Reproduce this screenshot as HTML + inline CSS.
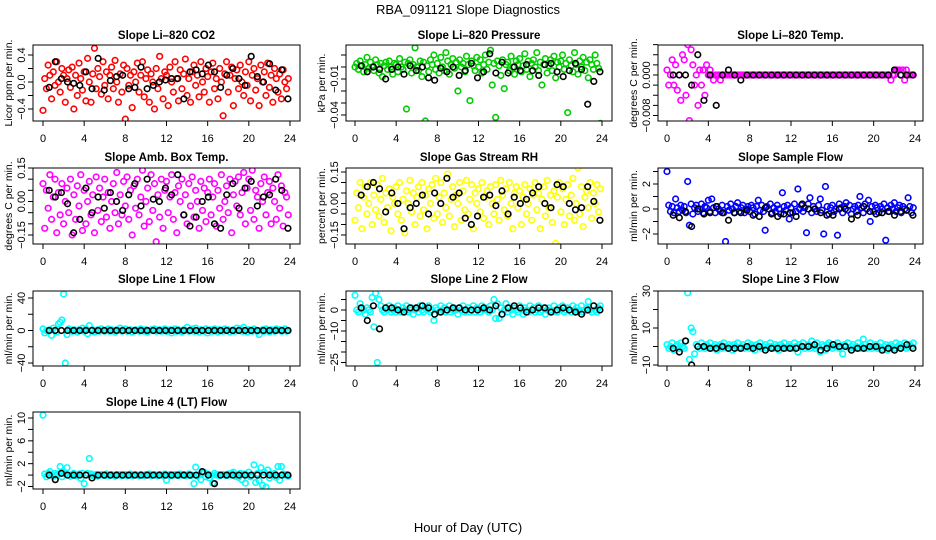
<!DOCTYPE html>
<html><head><meta charset="utf-8"><title>RBA_091121 Slope Diagnostics</title>
<style>
html,body{margin:0;padding:0;background:#fff;}
svg{display:block;font-family:"Liberation Sans",Arial,sans-serif;}
</style></head>
<body>
<svg id="chart" width="936" height="540" viewBox="0 0 936 540" xmlns="http://www.w3.org/2000/svg">
<rect width="936" height="540" fill="#fff"/>
<text x="468" y="14" text-anchor="middle" font-size="13">RBA_091121  Slope Diagnostics</text>
<text x="468" y="532" text-anchor="middle" font-size="13">Hour of Day (UTC)</text>
</svg>
<script>
// ---------- data ----------
const xTicks = [0,4,8,12,16,20,24];

const co2Vals = [-0.42,0.05,-0.1,0.25,0.1,-0.25,0.15,-0.05,0.3,0.0,-0.15,0.2,0.1,-0.3,0.05,0.18,-0.08,0.22,-0.4,0.1,-0.2,0.28,0.05,-0.12,
 0.15,-0.28,0.35,0.0,-0.3,0.12,0.5,-0.1,0.2,0.08,-0.18,0.3,-0.05,0.15,-0.25,0.1,0.22,-0.1,0.32,0.0,-0.3,0.12,-0.15,0.25,
 -0.55,0.2,-0.05,0.1,-0.38,0.15,0.0,0.28,-0.15,0.1,0.3,-0.22,0.05,0.18,-0.3,0.12,0.0,-0.4,0.2,-0.1,0.38,0.05,-0.25,0.15,
 0.1,-0.35,0.22,0.0,-0.15,0.3,0.05,-0.28,0.18,-0.1,0.12,0.34,-0.2,0.05,-0.3,0.15,0.25,-0.05,0.1,-0.22,0.3,0.0,-0.15,0.2,
 0.08,-0.3,0.15,0.28,-0.1,0.05,-0.25,0.2,0.0,-0.5,0.12,0.3,-0.15,0.1,0.22,-0.35,0.05,0.18,-0.1,0.25,0.0,-0.2,0.15,-0.05,
 0.3,-0.28,0.1,0.2,-0.12,0.05,-0.35,0.25,0.0,0.15,-0.2,0.28,-0.08,0.1,-0.3,0.2,0.05,-0.15,0.12,-0.25,0.18,0.0,-0.1,0.05];
const co2Black = [-0.08,0.3,0.05,0.0,-0.02,-0.05,0.15,-0.1,0.35,-0.12,0.02,0.08,0.1,-0.1,-0.08,0.22,-0.1,-0.05,0.0,0.03,0.05,0.05,-0.25,0.15,0.18,0.12,0.25,0.15,-0.08,0.1,0.2,0.05,-0.05,0.38,0.08,0.0,0.27,-0.12,0.18,-0.25];

const presVals = [0.0,0.003,-0.002,0.005,0.001,-0.004,0.002,0.008,-0.001,0.004,0.0,-0.003,0.006,0.002,-0.005,0.003,-0.008,0.001,0.004,-0.002,0.005,0.0,-0.006,0.003,
 0.002,-0.004,0.007,0.0,-0.002,0.004,-0.035,0.003,0.006,-0.005,0.002,0.016,0.0,-0.003,0.005,-0.008,0.004,-0.045,0.001,-0.004,0.006,0.002,0.01,-0.002,
 0.003,-0.005,0.008,0.0,-0.003,0.012,0.005,-0.006,0.002,0.007,-0.001,0.004,-0.02,0.006,0.0,0.003,-0.004,0.009,0.002,-0.028,0.005,0.001,-0.003,0.008,
 0.0,0.006,-0.005,0.002,0.01,-0.002,0.004,0.014,-0.015,0.003,-0.042,0.005,0.001,-0.007,0.006,-0.018,0.002,0.004,-0.003,0.009,0.0,-0.006,0.005,0.002,
 0.007,-0.004,0.001,0.011,-0.002,0.005,-0.008,0.003,0.006,0.0,0.012,-0.003,0.004,-0.015,0.002,0.007,-0.005,0.001,0.006,-0.003,0.009,-0.009,0.004,0.0,
 0.005,0.01,-0.002,0.003,-0.038,0.006,0.001,-0.004,0.012,0.002,-0.006,0.005,0.0,0.008,-0.003,0.004,-0.009,0.006,0.002,-0.002,0.01,0.003,-0.001,-0.047];
const presBlack = [0.001,-0.004,0.0,-0.002,-0.01,-0.002,0.0,-0.006,0.001,-0.003,0.0,-0.009,-0.011,-0.001,-0.004,0.0,-0.007,-0.003,0.003,-0.009,-0.004,0.011,-0.005,0.004,-0.005,0.0,-0.003,0.002,-0.003,-0.007,0.002,0.003,-0.004,-0.008,-0.003,0.003,-0.002,-0.031,-0.012,-0.004];

const tempVals = [0.001,-0.002,0.0,0.003,-0.002,0.002,-0.003,0.0,-0.005,0.004,0.003,-0.004,0.006,-0.009,0.005,0.002,-0.002,0.0,-0.006,0.001,-0.002,0.001,-0.004,0.002,
 0.0,0.001,0.0,-0.001,0.0,0.0,0.0,-0.001,0.0,0.0,0.0,0.0,0.0,0.0,0.0,0.0,0.0,0.0,0.0,0.0,0.0,0.0,0.0,0.0,
 0.0,0.0,0.0,0.0,0.0,0.0,0.0,0.0,0.0,0.0,0.0,0.0,0.0,0.0,0.0,0.0,0.0,0.0,0.0,0.0,0.0,0.0,0.0,0.0,
 0.0,0.0,0.0,0.0,0.0,0.0,0.0,0.0,0.0,0.0,0.0,0.0,0.0,0.0,0.0,0.0,0.0,0.0,0.0,0.0,0.0,0.0,0.0,0.0,
 0.0,0.0,0.0,0.0,0.0,0.0,0.0,0.0,0.0,0.0,0.0,0.0,0.0,0.0,0.0,0.0,0.0,0.0,0.0,0.0,0.0,0.0,0.0,0.0,
 0.0,0.0,0.0,0.0,0.0,0.0,0.0,0.0,0.0,0.0,-0.001,0.0,0.0,0.001,0.001,0.001,0.0,0.001,-0.001,0.001,0.0,0.0,0.0,0.0];
const tempBlack = [0.0,0.0,0.0,-0.002,0.004,-0.005,0.0,-0.006,0.0,0.001,0.0,-0.001,0.0,0.0,0.0,0.0,0.0,0.0,0.0,0.0,0.0,0.0,0.0,0.0,0.0,0.0,0.0,0.0,0.0,0.0,0.0,0.0,0.0,0.0,0.0,0.0,0.001,0.0,0.0,0.0];

const ambVals = [0.08,-0.12,0.05,-0.03,0.12,-0.08,0.02,0.1,-0.14,0.04,-0.06,0.08,-0.1,0.0,0.06,-0.05,0.1,-0.15,0.03,-0.08,0.07,-0.02,0.12,-0.13,
 0.05,-0.1,0.0,0.09,-0.06,0.03,-0.14,0.11,-0.04,0.06,-0.09,0.02,0.1,-0.07,0.04,-0.12,0.0,0.08,-0.05,0.13,-0.1,0.03,-0.06,0.09,
 -0.02,0.11,-0.08,0.05,-0.15,0.07,-0.03,0.1,-0.06,0.02,0.14,-0.11,0.0,0.06,-0.09,0.12,-0.04,0.08,-0.18,0.03,-0.07,0.1,-0.12,0.05,
 0.09,-0.05,0.02,0.12,-0.08,0.04,-0.14,0.07,0.0,0.1,-0.06,0.03,-0.1,0.08,-0.02,0.11,-0.07,0.05,0.0,-0.12,0.09,-0.04,0.06,-0.09,
 0.04,0.1,-0.06,0.02,0.08,-0.11,0.05,-0.03,0.12,-0.08,0.0,0.07,-0.05,0.1,-0.14,0.03,0.09,-0.02,0.11,-0.06,0.04,0.13,-0.1,0.06,
 0.1,-0.04,0.14,-0.08,0.05,0.02,-0.12,0.08,0.0,0.11,-0.06,0.04,0.09,-0.1,0.06,0.0,-0.08,0.12,-0.03,0.07,-0.11,0.04,0.02,-0.06];
const ambBlack = [0.05,0.02,0.04,-0.01,-0.14,-0.08,0.06,-0.05,0.02,-0.03,0.04,0.0,-0.04,0.03,0.08,-0.02,0.1,0.01,0.0,0.06,0.03,0.12,-0.06,-0.11,-0.07,0.0,0.02,-0.1,-0.12,0.03,0.08,-0.03,0.06,0.09,-0.02,0.02,0.03,0.1,0.05,-0.12];

const rhVals = [-0.08,0.05,-0.02,0.1,-0.12,0.03,0.08,-0.05,0.0,0.1,-0.1,0.04,-0.03,0.09,-0.06,0.02,0.12,-0.09,0.05,-0.02,0.07,-0.13,0.03,0.0,
 0.08,-0.05,0.1,-0.08,0.02,-0.14,0.06,0.0,0.11,-0.04,0.05,-0.1,0.03,0.08,-0.06,0.1,-0.03,0.04,-0.12,0.07,0.0,0.09,-0.07,0.12,
 -0.05,0.03,0.1,-0.09,0.05,-0.02,0.14,-0.06,0.02,0.08,-0.11,0.04,0.0,0.1,-0.08,0.06,-0.03,0.11,-0.05,0.02,0.09,-0.12,0.05,0.0,
 0.07,-0.04,0.1,-0.07,0.03,0.06,-0.1,0.08,0.0,-0.05,0.09,0.02,-0.08,0.11,0.04,-0.03,0.07,-0.06,0.1,0.0,-0.12,0.05,0.08,-0.02,
 0.06,-0.1,0.03,0.09,-0.05,0.0,0.07,-0.08,0.04,0.1,-0.03,0.05,-0.12,0.02,0.08,-0.06,0.11,-0.02,0.04,-0.09,0.06,-0.19,0.03,0.1,
 -0.04,0.07,-0.1,0.02,0.09,-0.06,0.04,0.12,-0.08,0.0,0.17,-0.05,0.08,-0.11,0.03,0.06,-0.02,0.1,-0.07,0.05,0.0,0.09,-0.04,0.07];
const rhBlack = [0.04,0.08,0.1,0.07,-0.04,0.05,0.0,-0.12,-0.02,0.0,0.04,-0.05,0.05,0.0,0.12,0.03,0.05,-0.07,-0.1,-0.06,0.03,0.04,-0.01,0.06,-0.05,0.03,0.0,0.02,0.05,0.08,0.0,-0.02,0.09,0.08,0.0,-0.03,-0.02,0.08,0.01,-0.08];

const sampVals = [3.0,0.3,-0.2,0.2,-0.3,0.8,0.1,-0.2,0.3,-0.1,0.2,-0.3,2.2,-1.3,0.4,-0.4,0.1,0.3,-0.2,0.0,0.4,-0.3,0.2,0.1,
 0.7,-0.2,0.8,0.1,-0.3,0.2,0.0,-0.2,0.3,-0.3,-2.6,0.2,-0.1,0.4,0.0,-0.3,0.2,0.5,-0.2,0.1,0.3,-0.3,0.0,0.2,
 -0.2,0.3,0.1,-0.4,0.2,0.7,-0.1,0.3,-0.2,-1.7,0.2,0.0,0.4,-0.3,0.1,-0.2,0.3,0.0,-0.4,1.3,0.2,-0.1,0.3,-0.8,
 0.1,-0.3,0.4,-0.2,1.6,0.0,0.3,-0.2,0.1,-1.9,0.4,0.9,-0.3,0.2,0.0,-0.2,0.3,0.8,-0.1,-2.0,1.8,0.2,-0.4,0.1,
 0.3,-0.2,0.0,-2.1,0.4,0.1,-0.3,0.2,0.5,-0.1,0.3,-0.4,0.0,0.2,-0.2,0.3,1.0,0.1,-0.3,0.4,0.0,0.7,-1.0,0.2,
 -0.2,0.3,0.1,-0.3,0.2,0.0,0.4,-2.5,0.1,-0.2,0.3,0.0,0.5,-0.2,0.1,0.3,-0.3,0.2,0.0,-0.1,0.9,0.2,-0.3,0.1];
const sampBlack = [-0.5,-0.7,-0.2,-1.4,0.0,-0.4,-0.3,0.2,-0.3,-0.9,-0.3,-0.3,-0.1,-0.5,-0.6,0.1,-0.4,-0.6,-0.4,-0.3,-0.6,0.4,0.0,0.0,-0.3,-0.5,-0.5,0.0,0.0,-0.8,-0.5,0.2,-0.2,-0.4,-0.3,-0.2,-0.5,-0.2,-0.1,-0.5];

const line1Vals = [2,-3,0,-1,1,-6,3,0,-2,8,10,13,45,-40,-5,2,0,-1,1,0,-2,1,0,3,
 -1,2,-4,6,0,1,-2,0,1,-1,2,0,-1,0,2,-1,1,0,-2,1,0,3,-1,0,
 2,-1,0,1,-2,0,1,0,-1,2,0,-1,1,-2,0,1,0,2,-1,0,1,-1,0,2,
 -1,0,1,-3,0,2,-1,1,0,-2,1,0,4,-1,0,2,-1,3,0,-2,1,0,-1,2,
 -3,0,1,-1,2,0,-2,1,0,-1,2,0,1,-2,0,1,-1,3,0,2,-1,4,0,-2,
 1,0,-1,2,0,-1,-5,0,1,-1,2,0,-2,1,0,-1,2,0,1,-1,0,2,-1,0];
const line1Black = [0,0,0,0,0,0,0,0,0,0,0,0,0,0,0,0,0,0,0,0,0,0,0,0,0,0,0,0,0,0,0,0,0,0,0,0,0,0,0,0];

const line2Vals = [7,0,-1,3,1,0,-2,1,0,-1,6,-8,8,-25,5,2,0,-1,1,0,2,-1,0,1,
 -1,2,0,-1,1,0,2,-1,0,1,-2,0,1,-1,2,0,-1,1,0,2,-1,0,-5,1,
 0,-1,2,0,1,-1,0,2,-1,0,1,0,-2,1,0,2,-1,0,1,-1,0,2,-1,1,
 0,-1,2,0,1,0,-1,2,0,5,-4,3,-4,1,-2,0,3,-1,1,0,-2,1,0,-1,
 2,0,-2,1,0,-1,2,0,1,-1,0,2,-1,0,1,-2,0,1,0,-1,2,0,-1,1,
 0,2,-1,0,1,0,-1,2,0,1,-1,0,2,-1,0,1,4,0,-1,2,0,-1,1,2];
const line2Black = [1,-5,2,-9,1,1,0,-1,1,1,2,1,-2,-1,0,1,1,0,0,0,1,0,2,-2,1,2,1,-1,0,1,1,-1,0,1,0,-1,-2,0,2,0];

const line3Vals = [1,-1,0,2,-2,0,1,-1,2,0,-1,3,29,-7,10,8,-4,1,0,-1,2,0,-1,1,
 0,2,-1,0,1,-2,0,1,-1,2,0,-1,1,0,-2,1,0,2,-1,0,1,-1,0,2,
 -1,1,0,-2,1,0,2,-1,0,1,-1,0,2,0,-1,1,0,-2,1,0,2,-1,0,1,
 0,-1,2,0,-3,1,0,2,-1,0,1,-1,3,0,-1,2,0,-3,1,0,-2,1,2,0,
 -1,1,0,2,-1,0,-4,1,0,2,-1,0,1,-1,0,2,-1,0,4,1,-1,0,2,-1,
 0,1,-1,0,2,-1,0,1,-2,0,1,0,-1,2,0,1,-1,0,2,-1,0,1,0,2];
const line3Black = [-1,-3,3,-10,0,0,-1,-1,0,-1,-1,-1,0,-1,0,-2,-1,-1,-1,-1,-1,0,0,1,-2,-1,1,0,0,-2,-1,-1,0,0,-2,-1,-2,-1,1,-1];

const line4Vals = [10.5,0.2,-0.3,0.3,0.6,0.1,-0.2,0.3,0.0,0.2,1.5,-0.3,0.5,0.2,1.3,0.0,-0.2,0.1,0.3,-0.1,0.0,0.2,-0.6,0.3,
 -1.5,0.0,0.3,2.9,0.2,-0.1,0.0,0.1,-0.2,0.0,0.1,0.0,-0.1,0.2,0.0,-0.1,0.1,0.0,-0.2,0.1,0.0,0.1,-0.1,0.0,
 0.1,-0.1,0.0,0.2,-0.1,0.0,0.1,0.0,-0.1,0.1,0.0,-0.1,0.1,0.0,0.2,-0.1,0.0,0.1,0.0,-0.1,0.1,0.0,-0.1,0.2,
 -0.9,0.0,0.1,-0.1,0.0,0.1,0.0,-0.1,0.2,0.0,0.1,-0.1,0.0,0.2,-0.1,0.0,-1.5,1.4,-0.2,0.0,-0.8,0.3,0.5,-0.3,
 0.2,-0.5,0.0,-1.4,0.3,0.0,0.1,-0.1,0.0,0.1,0.0,-0.1,0.2,0.0,0.3,0.5,-0.2,0.0,-0.4,0.3,-0.8,0.2,-1.4,0.0,
 0.5,-0.3,0.0,1.8,-1.3,0.3,-1.0,1.3,-1.8,0.5,-2.1,0.9,-0.5,0.2,0.0,0.3,-0.4,1.5,-0.9,1.5,0.2,0.0,0.1,-0.2];
const line4Black = [0,-0.8,0.3,0,0,0,0,-0.5,0,0,0,0,0,0,0,0,0,0,0,0,0,0,0,0,0,0.6,0,-1.5,0,0,0,0,0,0,0,0,0,0,0,0];

// ---------- layout (not data) ----------
const cols = [{bx0:33,bx1:300,x0:43,x24:290},{bx0:346,bx1:612,x0:355,x24:602},{bx0:658,bx1:923,x0:667,x24:915}];
const rows = [{by0:45,by1:121,ty:39},{by0:168,by1:244,ty:161},{by0:291,by1:366,ty:283},{by0:412,by1:489,ty:406}];

const panels = [
 {name:'co2',title:'Slope Li\u2013820 CO2',ylab:'Licor ppm per min.',c:0,r:0,color:'#ff0000',vals:co2Vals,blk:co2Black,ref:[0.4,55,-0.4,109],ticks:[-0.4,-0.2,0,0.2,0.4],labels:[[0.4,'0.4'],[0,'0.0'],[-0.4,'\u22120.4']]},
 {name:'pressure',title:'Slope Li\u2013820 Pressure',ylab:'kPa per min.',c:1,r:0,color:'#00cd00',vals:presVals,blk:presBlack,ref:[0.01,55,-0.04,115],ticks:[0.01,0,-0.01,-0.02,-0.03,-0.04],labels:[[-0.01,'\u22120.01'],[-0.04,'\u22120.04']]},
 {name:'li820-temp',title:'Slope Li\u2013820 Temp.',ylab:'degrees C per min.',c:2,r:0,color:'#ff00ff',vals:tempVals,blk:tempBlack,ref:[0,75,-0.008,115.5],ticks:[0.006,0.004,0.002,0,-0.002,-0.004,-0.006,-0.008],labels:[[0,'0.000'],[-0.008,'\u22120.008']]},
 {name:'amb-box-temp',title:'Slope Amb. Box Temp.',ylab:'degrees C per min.',c:0,r:1,color:'#ff00ff',vals:ambVals,blk:ambBlack,ref:[0.15,168,-0.15,235],ticks:[0.15,0.1,0.05,0,-0.05,-0.1,-0.15],labels:[[0.15,'0.15'],[0,'0.00'],[-0.15,'\u22120.15']]},
 {name:'gas-stream-rh',title:'Slope Gas Stream RH',ylab:'percent per min.',c:1,r:1,color:'#ffff00',vals:rhVals,blk:rhBlack,ref:[0.15,172,-0.15,235],ticks:[0.15,0.1,0.05,0,-0.05,-0.1,-0.15],labels:[[0.15,'0.15'],[0,'0.00'],[-0.15,'\u22120.15']]},
 {name:'sample-flow',title:'Slope Sample Flow',ylab:'ml/min per min.',c:2,r:1,color:'#0000ff',vals:sampVals,blk:sampBlack,ref:[2,184,-2,234],ticks:[3,2,1,0,-1,-2],labels:[[2,'2'],[0,'0'],[-2,'\u22122']]},
 {name:'line1-flow',title:'Slope Line 1 Flow',ylab:'ml/min per min.',c:0,r:2,color:'#00ffff',vals:line1Vals,blk:line1Black,ref:[40,298,-40,363],ticks:[40,20,0,-20,-40],labels:[[40,'40'],[0,'0'],[-40,'\u221240']]},
 {name:'line2-flow',title:'Slope Line 2 Flow',ylab:'ml/min per min.',c:1,r:2,color:'#00ffff',vals:line2Vals,blk:line2Black,ref:[0,310,-25,362.5],ticks:[5,0,-5,-10,-15,-20,-25],labels:[[0,'0'],[-10,'\u221210'],[-25,'\u221225']]},
 {name:'line3-flow',title:'Slope Line 3 Flow',ylab:'ml/min per min.',c:2,r:2,color:'#00ffff',vals:line3Vals,blk:line3Black,ref:[30,291,-10,365],ticks:[30,20,10,0,-10],labels:[[30,'30'],[10,'10'],[-10,'\u221210']]},
 {name:'line4-flow',title:'Slope Line 4 (LT) Flow',ylab:'ml/min per min.',c:0,r:3,color:'#00ffff',vals:line4Vals,blk:line4Black,ref:[10,418,-2,486.5],ticks:[10,8,6,4,2,0,-2],labels:[[10,'10'],[6,'6'],[2,'2'],[-2,'\u22122']]}
];

const NS='http://www.w3.org/2000/svg';
const svg=document.getElementById('chart');
function mk(tag,attrs,parent){const e=document.createElementNS(NS,tag);for(const k in attrs)e.setAttribute(k,attrs[k]);(parent||svg).appendChild(e);return e;}

panels.forEach(p=>{
  const col=cols[p.c], row=rows[p.r];
  const g=mk('g',{});
  
  
  const xs=h=>col.x0+(col.x24-col.x0)*h/24;
  const ys=v=>p.ref[1]+(v-p.ref[0])*(p.ref[3]-p.ref[1])/(p.ref[2]-p.ref[0]);
  const t=mk('text',{x:(col.bx0+col.bx1)/2,y:row.ty,'text-anchor':'middle','font-size':'11.5','font-weight':'bold'},g);
  t.textContent=p.title;
  
  
  const cy=(row.by0+row.by1)/2, lx=col.bx0-21;
  const yt=mk('text',{x:lx,y:cy,'text-anchor':'middle','font-size':'10.5',transform:`rotate(-90 ${lx} ${cy})`},g);
  yt.textContent=p.ylab;
  
  
  const xa=mk('g',{},g);
  
  
  mk('line',{x1:xs(0),x2:xs(24),y1:row.by1,y2:row.by1,stroke:'#000'},xa);
  xTicks.forEach(h=>{
    mk('line',{x1:xs(h),x2:xs(h),y1:row.by1,y2:row.by1+5,stroke:'#000'},xa);
    const tl=mk('text',{x:xs(h),y:row.by1+21,'text-anchor':'middle','font-size':'11'},xa);
    tl.textContent=String(h);
    
    
  });
  const ya=mk('g',{},g);
  
  
  const tv=p.ticks.map(ys);
  mk('line',{x1:col.bx0,x2:col.bx0,y1:Math.min(...tv),y2:Math.max(...tv),stroke:'#000'},ya);
  p.ticks.forEach(v=>mk('line',{x1:col.bx0-5,x2:col.bx0,y1:ys(v),y2:ys(v),stroke:'#000'},ya));
  p.labels.forEach(([v,s])=>{
    const x=col.bx0-8, y=ys(v);
    const tl=mk('text',{x:x,y:y,'text-anchor':'middle','font-size':'11',transform:`rotate(-90 ${x} ${y})`},ya);
    tl.textContent=s;
    
    
  });
  const cid='clip-'+p.name;
  const cp=mk('clipPath',{id:cid},g);
  mk('rect',{x:col.bx0,y:row.by0,width:col.bx1-col.bx0,height:row.by1-row.by0},cp);
  const pts=mk('g',{'clip-path':`url(#${cid})`,fill:'none','stroke-width':'1.6'},g);
  const n=p.vals.length;
  p.vals.forEach((v,i)=>{
    const h=i*24/n;
    const c=mk('circle',{cx:xs(h),cy:ys(v),r:2.8,stroke:p.color},pts);
    
    
  });
  const nb=p.blk.length;
  p.blk.forEach((v,i)=>{
    const h=0.6+i*(23.8-0.6)/(nb-1);
    const c=mk('circle',{cx:xs(h),cy:ys(v),r:2.8,stroke:'#000'},pts);
    
    
  });
  const b=mk('rect',{x:col.bx0,y:row.by0,width:col.bx1-col.bx0,height:row.by1-row.by0,fill:'none',stroke:'#000'},g);
  
  
});
</script>
</body></html>
